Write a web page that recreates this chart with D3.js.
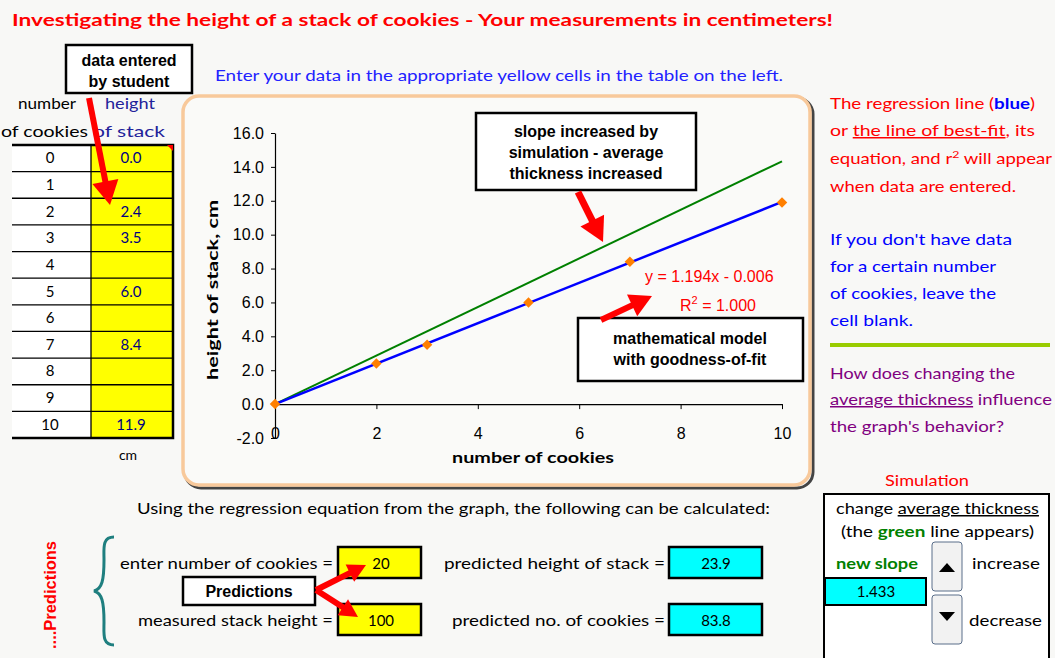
<!DOCTYPE html>
<html>
<head>
<meta charset="utf-8">
<script src="https://cdn.jsdelivr.net/npm/d3@7"></script>
<style>
  body { margin: 0; background: #f8f8f6; }
  svg { display: block; }
  .comic { font-family: "Comic Sans MS", "Lato", "Noto Sans", sans-serif; }
  .num { font-family: "Liberation Sans", Arial, sans-serif; }
</style>
</head>
<body>
<script>
// table data (blank cells are null)
const cookies = [0, 1, 2, 3, 4, 5, 6, 7, 8, 9, 10];
const heights = [0.0, null, 2.4, 3.5, null, 6.0, null, 8.4, null, null, 11.9];

// fit shown on the chart
const fitSlope = 1.194, fitIntercept = -0.006, fitR2 = 1.000;
const simSlope = 1.433;

// axis ticks
const xTicks = [0, 2, 4, 6, 8, 10];
const yTicks = [-2, 0, 2, 4, 6, 8, 10, 12, 14, 16];

// predictions
const predInputs = [20, 100];
const predOutputs = [23.9, 83.8];

const W = 1055, H = 658;
const svg = d3.select("body").append("svg").attr("width", W).attr("height", H);

function arrow(x1, y1, x2, y2, w, head) {
  // thick red arrow from (x1,y1) to tip (x2,y2)
  const a = Math.atan2(y2 - y1, x2 - x1), L = Math.hypot(x2 - x1, y2 - y1);
  const g = svg.append("g").attr("transform", "translate(" + x1 + "," + y1 + ") rotate(" + (a * 180 / Math.PI) + ")");
  g.append("rect").attr("x", 0).attr("y", -w / 2).attr("width", L - head).attr("height", w).attr("fill", "#ff0000");
  g.append("path").attr("d", "M" + L + ",0 L" + (L - head - 2) + "," + (-head * 0.6) + " L" + (L - head - 2) + "," + (head * 0.6) + "Z").attr("fill", "#ff0000");
}

function textLine(x, y, s, opts) {
  const t = svg.append("text").attr("x", x).attr("y", y).attr("class", opts.cls || "comic")
    .attr("font-size", opts.size || 15).attr("fill", opts.fill || "#000")
    .attr("font-weight", opts.bold ? "bold" : null)
    .attr("text-anchor", opts.anchor || "start");
  if (opts.len) t.attr("textLength", opts.len).attr("lengthAdjust", "spacingAndGlyphs");
  t.text(s);
  return t;
}

// title
textLine(12, 26, "Investigating the height of a stack of cookies - Your measurements in centimeters!",
  { fill: "#ff0000", size: 17, bold: true, len: 821 });
textLine(215, 81, "Enter your data in the appropriate yellow cells in the table on the left.",
  { fill: "#2222ff", size: 15, len: 568 });

// ---- table ----
const rowY = d3.scaleBand().domain(cookies).range([145, 438]);
textLine(47, 109, "number", { anchor: "middle", len: 58 });
textLine(130, 109, "height", { anchor: "middle", fill: "#22229a", len: 50 });
textLine(1, 137, "of cookies", { len: 87 });
textLine(93, 137, "of stack", { fill: "#22229a", len: 72 });

svg.append("rect").attr("x", 10).attr("y", 145).attr("width", 81).attr("height", 293).attr("fill", "#fff");
svg.append("rect").attr("x", 91).attr("y", 145).attr("width", 82).attr("height", 293).attr("fill", "#ffff00");
svg.selectAll(".rowline").data(cookies.slice(1)).enter().append("line")
  .attr("x1", 10).attr("x2", 173)
  .attr("y1", d => rowY(d)).attr("y2", d => rowY(d))
  .attr("stroke", "#000").attr("stroke-width", 1.3);
svg.append("line").attr("x1", 91).attr("x2", 91).attr("y1", 145).attr("y2", 438).attr("stroke", "#000").attr("stroke-width", 1.3);
svg.append("rect").attr("x", 10).attr("y", 145).attr("width", 163).attr("height", 293)
  .attr("fill", "none").attr("stroke", "#000").attr("stroke-width", 2.5);
svg.append("rect").attr("x", 8).attr("y", 143).attr("width", 4).attr("height", 297).attr("fill", "#f8f8f6");
svg.selectAll(".ncell").data(cookies).enter().append("text")
  .attr("class", "comic").attr("font-size", 15).attr("text-anchor", "middle")
  .attr("x", 50).attr("y", d => rowY(d) + rowY.bandwidth() / 2 + 5)
  .text(d => d);
svg.selectAll(".hcell").data(cookies.filter(d => heights[d] !== null)).enter().append("text")
  .attr("class", "comic").attr("font-size", 15).attr("text-anchor", "middle").attr("fill", "#000080")
  .attr("x", 131).attr("y", d => rowY(d) + rowY.bandwidth() / 2 + 5)
  .text(d => heights[d].toFixed(1));
svg.append("path").attr("d", "M167,145 L173,145 L173,151 Z").attr("fill", "#ff0000");
textLine(128, 460, "cm", { anchor: "middle", size: 14 });

// "data entered by student" callout
svg.append("rect").attr("x", 66).attr("y", 45).attr("width", 126).attr("height", 48)
  .attr("fill", "#fff").attr("stroke", "#000").attr("stroke-width", 2.5);
textLine(129, 66, "data entered", { anchor: "middle", bold: true, size: 16, cls: "num" });
textLine(129, 87, "by student", { anchor: "middle", bold: true, size: 16, cls: "num" });
arrow(89, 98, 110, 205, 6, 22);

// ---- chart panel ----
svg.append("rect").attr("x", 185).attr("y", 98).attr("width", 628).attr("height", 390).attr("rx", 16)
  .attr("fill", "none").attr("stroke", "#444").attr("stroke-width", 3);
svg.append("rect").attr("x", 183).attr("y", 96).attr("width", 627).attr("height", 389).attr("rx", 16)
  .attr("fill", "#fafaf8").attr("stroke", "#f8c99b").attr("stroke-width", 3.5);

const x = d3.scaleLinear().domain([0, 10]).range([275, 782]);
const y = d3.scaleLinear().domain([-2, 16]).range([438, 133]);

const yAxis = svg.append("g").attr("transform", "translate(" + x(0) + ",0)")
  .call(d3.axisLeft(y).tickValues(yTicks).tickFormat(d => d.toFixed(1)).tickSize(4).tickSizeOuter(0));
yAxis.selectAll("text").attr("font-size", 16).attr("fill", "#000").attr("dx", -4)
  .attr("font-family", "Liberation Sans, Arial, sans-serif");
const xAxis = svg.append("g").attr("transform", "translate(0," + y(0) + ")")
  .call(d3.axisBottom(x).tickValues(xTicks).tickSize(5).tickSizeOuter(0));
xAxis.selectAll("text").attr("font-size", 16).attr("fill", "#000").attr("dy", "1.7em")
  .attr("font-family", "Liberation Sans, Arial, sans-serif");
svg.selectAll(".domain").attr("stroke", "#000").attr("stroke-width", 1.2);
svg.selectAll(".tick line").attr("stroke", "#000");

svg.append("text").attr("class", "comic").attr("font-size", 16).attr("font-weight", "bold")
  .attr("text-anchor", "middle").attr("x", 533).attr("y", 463)
  .attr("textLength", 162).attr("lengthAdjust", "spacingAndGlyphs").text("number of cookies");
svg.append("text").attr("class", "comic").attr("font-size", 16).attr("font-weight", "bold")
  .attr("text-anchor", "middle").attr("transform", "translate(218,290) rotate(-90)")
  .attr("textLength", 180).attr("lengthAdjust", "spacingAndGlyphs").text("height of stack, cm");

// simulation line and fit line
svg.append("line").attr("x1", x(0)).attr("y1", y(0)).attr("x2", x(10)).attr("y2", y(simSlope * 10))
  .attr("stroke", "#008000").attr("stroke-width", 2);
svg.append("line").attr("x1", x(0)).attr("y1", y(fitIntercept)).attr("x2", x(10)).attr("y2", y(fitSlope * 10 + fitIntercept))
  .attr("stroke", "#0000ff").attr("stroke-width", 2.5);

const pts = cookies.filter(d => heights[d] !== null);
svg.selectAll(".pt").data(pts).enter().append("path")
  .attr("d", d3.symbol(d3.symbolDiamond2, 70))
  .attr("transform", d => "translate(" + x(d) + "," + y(heights[d]) + ")")
  .attr("fill", "#ff7f00");

// equation
svg.append("text").attr("class", "num").attr("font-size", 16).attr("fill", "#ff0000")
  .attr("x", 645).attr("y", 282).text("y = " + fitSlope.toFixed(3) + "x - " + Math.abs(fitIntercept).toFixed(3));
const r2 = svg.append("text").attr("class", "num").attr("font-size", 16).attr("fill", "#ff0000").attr("x", 680).attr("y", 311);
r2.append("tspan").text("R");
r2.append("tspan").attr("dy", -7).attr("font-size", 11).text("2");
r2.append("tspan").attr("dy", 7).text(" = " + fitR2.toFixed(3));

// chart callouts
svg.append("rect").attr("x", 476).attr("y", 113).attr("width", 220).attr("height", 77)
  .attr("fill", "#fff").attr("stroke", "#000").attr("stroke-width", 2.5);
["slope increased by", "simulation - average", "thickness increased"].forEach((s, i) =>
  textLine(586, 137 + i * 21, s, { anchor: "middle", bold: true, size: 16, cls: "num" }));
arrow(578, 192, 603, 242, 7, 22);

svg.append("rect").attr("x", 578).attr("y", 318).attr("width", 225).attr("height", 63)
  .attr("fill", "#fff").attr("stroke", "#000").attr("stroke-width", 2.5);
["mathematical model", "with goodness-of-fit"].forEach((s, i) =>
  textLine(690, 344 + i * 21, s, { anchor: "middle", bold: true, size: 16, cls: "num" }));
arrow(601, 320, 652, 296, 6, 20);

// ---- right notes ----
const t1 = textLine(830, 109, "", { fill: "#ff0000", len: 205 });
t1.append("tspan").text("The regression line (");
t1.append("tspan").attr("fill", "#0000ff").attr("font-weight", "bold").text("blue");
t1.append("tspan").text(")");
const t2 = textLine(830, 136, "", { fill: "#ff0000", len: 205 });
t2.append("tspan").text("or ");
t2.append("tspan").attr("text-decoration", "underline").text("the line of best-fit");
t2.append("tspan").text(", its");
const t3 = textLine(830, 164, "", { fill: "#ff0000", len: 222 });
t3.append("tspan").text("equation, and r");
t3.append("tspan").attr("dy", -6).attr("font-size", 10).text("2");
t3.append("tspan").attr("dy", 6).text(" will appear");
textLine(830, 192, "when data are entered.", { fill: "#ff0000", len: 186 });

["If you don't have data", "for a certain number", "of cookies, leave the", "cell blank."].forEach((s, i) =>
  textLine(830, 245 + i * 27, s, { fill: "#0000ff", len: [182, 166, 166, 83][i] }));
svg.append("line").attr("x1", 830).attr("x2", 1050).attr("y1", 345).attr("y2", 345)
  .attr("stroke", "#99cc00").attr("stroke-width", 4);
textLine(830, 379, "How does changing the", { fill: "#800080", len: 185 });
const t4 = textLine(830, 405, "", { fill: "#800080", len: 222 });
t4.append("tspan").attr("text-decoration", "underline").text("average thickness");
t4.append("tspan").text(" influence");
textLine(830, 432, "the graph's behavior?", { fill: "#800080", len: 174 });

// ---- predictions ----
textLine(137, 514, "Using the regression equation from the graph, the following can be calculated:", { len: 633 });
svg.append("text").attr("class", "num").attr("font-size", 16).attr("font-weight", "bold").attr("fill", "#ff0000")
  .attr("text-anchor", "middle").attr("transform", "translate(56,595) rotate(-90)")
  .attr("textLength", 108).attr("lengthAdjust", "spacingAndGlyphs").text("....Predictions");
svg.append("path")
  .attr("d", "M114,537 C102,537 104,548 104,560 C104,580 102,589 94,591 C102,593 104,602 104,622 C104,634 102,645 114,645")
  .attr("fill", "none").attr("stroke", "#1f7f7f").attr("stroke-width", 3);

const rowsY = [547, 604];
const leftLabels = ["enter number of cookies =", "measured stack height ="];
const rightLabels = ["predicted height of stack =", "predicted no. of cookies ="];
rowsY.forEach((ry, i) => {
  textLine(333, ry + 22, leftLabels[i], { anchor: "end", len: [213, 195][i] });
  svg.append("rect").attr("x", 338).attr("y", ry).attr("width", 83).attr("height", 31)
    .attr("fill", "#ffff00").attr("stroke", "#000").attr("stroke-width", 2.5);
  textLine(381, ry + 22, predInputs[i], { anchor: "middle" });
  textLine(665, ry + 22, rightLabels[i], { anchor: "end", len: [221, 213][i] });
  svg.append("rect").attr("x", 669).attr("y", ry).attr("width", 93).attr("height", 31)
    .attr("fill", "#00ffff").attr("stroke", "#000").attr("stroke-width", 2.5);
  textLine(716, ry + 22, predOutputs[i].toFixed(1), { anchor: "middle" });
});
svg.append("rect").attr("x", 183).attr("y", 577).attr("width", 132).attr("height", 28)
  .attr("fill", "#fff").attr("stroke", "#000").attr("stroke-width", 2.5);
textLine(249, 597, "Predictions", { anchor: "middle", bold: true, size: 16, cls: "num" });
arrow(316, 590, 366, 565, 6, 16);
arrow(316, 590, 358, 617, 6, 16);

// ---- simulation panel ----
textLine(927, 486, "Simulation", { anchor: "middle", fill: "#ff0000", len: 84 });
svg.append("rect").attr("x", 824).attr("y", 494).attr("width", 225).attr("height", 170)
  .attr("fill", "#fff").attr("stroke", "#000").attr("stroke-width", 2);
const s1 = textLine(836, 514, "", { len: 203 });
s1.append("tspan").text("change ");
s1.append("tspan").attr("text-decoration", "underline").text("average thickness");
const s2 = textLine(841, 537, "", { len: 193 });
s2.append("tspan").text("(the ");
s2.append("tspan").attr("fill", "#008000").attr("font-weight", "bold").text("green");
s2.append("tspan").text(" line appears)");
textLine(836, 569, "new slope", { fill: "#008000", bold: true, len: 82 });
svg.append("rect").attr("x", 825).attr("y", 578).attr("width", 101).attr("height", 27)
  .attr("fill", "#00ffff").attr("stroke", "#000").attr("stroke-width", 2);
textLine(876, 597, simSlope.toFixed(3), { anchor: "middle" });
[[542, "M939,572 L955,572 L947,563 Z"], [595, "M939,612 L955,612 L947,621 Z"]].forEach(b => {
  svg.append("rect").attr("x", 932).attr("y", b[0]).attr("width", 30).attr("height", 49).attr("rx", 3)
    .attr("fill", "#f2f2f2").attr("stroke", "#5a6e8a").attr("stroke-width", 1);
  svg.append("path").attr("d", b[1]).attr("fill", "#000");
});
textLine(972, 569, "increase", { len: 68 });
textLine(969, 626, "decrease", { len: 73 });
</script>
</body>
</html>
